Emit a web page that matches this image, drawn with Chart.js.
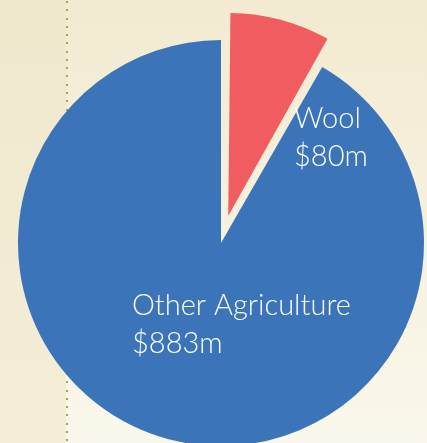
<!DOCTYPE html>
<html>
<head>
<meta charset="utf-8">
<script src="https://cdn.jsdelivr.net/npm/chart.js@4.4.0/dist/chart.umd.min.js"></script>
<style>
  html, body { margin: 0; padding: 0; width: 427px; height: 443px; overflow: hidden; }
  body { position: relative; background: linear-gradient(to bottom, #f2ebd1, #faf7ec); }
  #leftStrip { position: absolute; left: 0; top: 0; width: 66px; height: 443px;
    background: linear-gradient(to bottom, #f0e8cd, #f4eed8); }
  #dots { position: absolute; left: 0; top: 0; }
  #pieCanvas { position: absolute; left: -29px; top: -7px; }
</style>
</head>
<body>
<div id="leftStrip"></div>
<canvas id="dots" width="100" height="443"></canvas>
<canvas id="pieCanvas" width="500" height="500"></canvas>
<script>
const categories = ["Wool", "Other Agriculture"];
const values = [80, 883];
const valueLabels = ["$80m", "$883m"];
const colours = ["#f05c5f", "#3c74b9"];

// dotted guide line on the left
const dctx = document.getElementById("dots").getContext("2d");
dctx.fillStyle = "#9aab4f";
for (let y = 1; y < 443; y += 8.27) {
    dctx.fillRect(66, Math.round(y), 2, 2);
}

const ctx = document.getElementById("pieCanvas").getContext("2d");

// label anchor relative to the pie centre, per slice
const labelShift = [[73, -115], [-89, 72]];

const labelPlugin = {
    id: "sliceLabels",
    beforeDatasetsDraw(chart) {
        // chart.js grows an offset slice's radius; keep the wool slice the same size
        const meta = chart.getDatasetMeta(0);
        meta.data[0].outerRadius = meta.data[1].outerRadius - 14;
    },
    afterDatasetsDraw(chart) {
        const meta = chart.getDatasetMeta(0);
        const base = meta.data[1];
        const c = chart.ctx;
        c.save();
        c.fillStyle = "#ffffff";
        c.font = "300 29px Lato";
        c.textAlign = "left";
        c.textBaseline = "alphabetic";
        meta.data.forEach((arc, i) => {
            const x = base.x + labelShift[i][0];
            const y = base.y + labelShift[i][1];
            c.fillText(categories[i], x, y);
            c.fillText(valueLabels[i], x, y + 38);
        });
        c.restore();
    }
};

const pieChart = new Chart(ctx, {
    type: "pie",
    data: {
        labels: categories,
        datasets: [{
            data: values,
            backgroundColor: colours,
            borderWidth: 0,
            offset: [112, 0],
            hoverOffset: 0
        }]
    },
    options: {
        responsive: false,
        animation: false,
        events: [],
        radius: 203,
        layout: { padding: 0 },
        plugins: {
            legend: { display: false },
            tooltip: { enabled: false }
        }
    },
    plugins: [labelPlugin]
});
</script>
</body>
</html>
